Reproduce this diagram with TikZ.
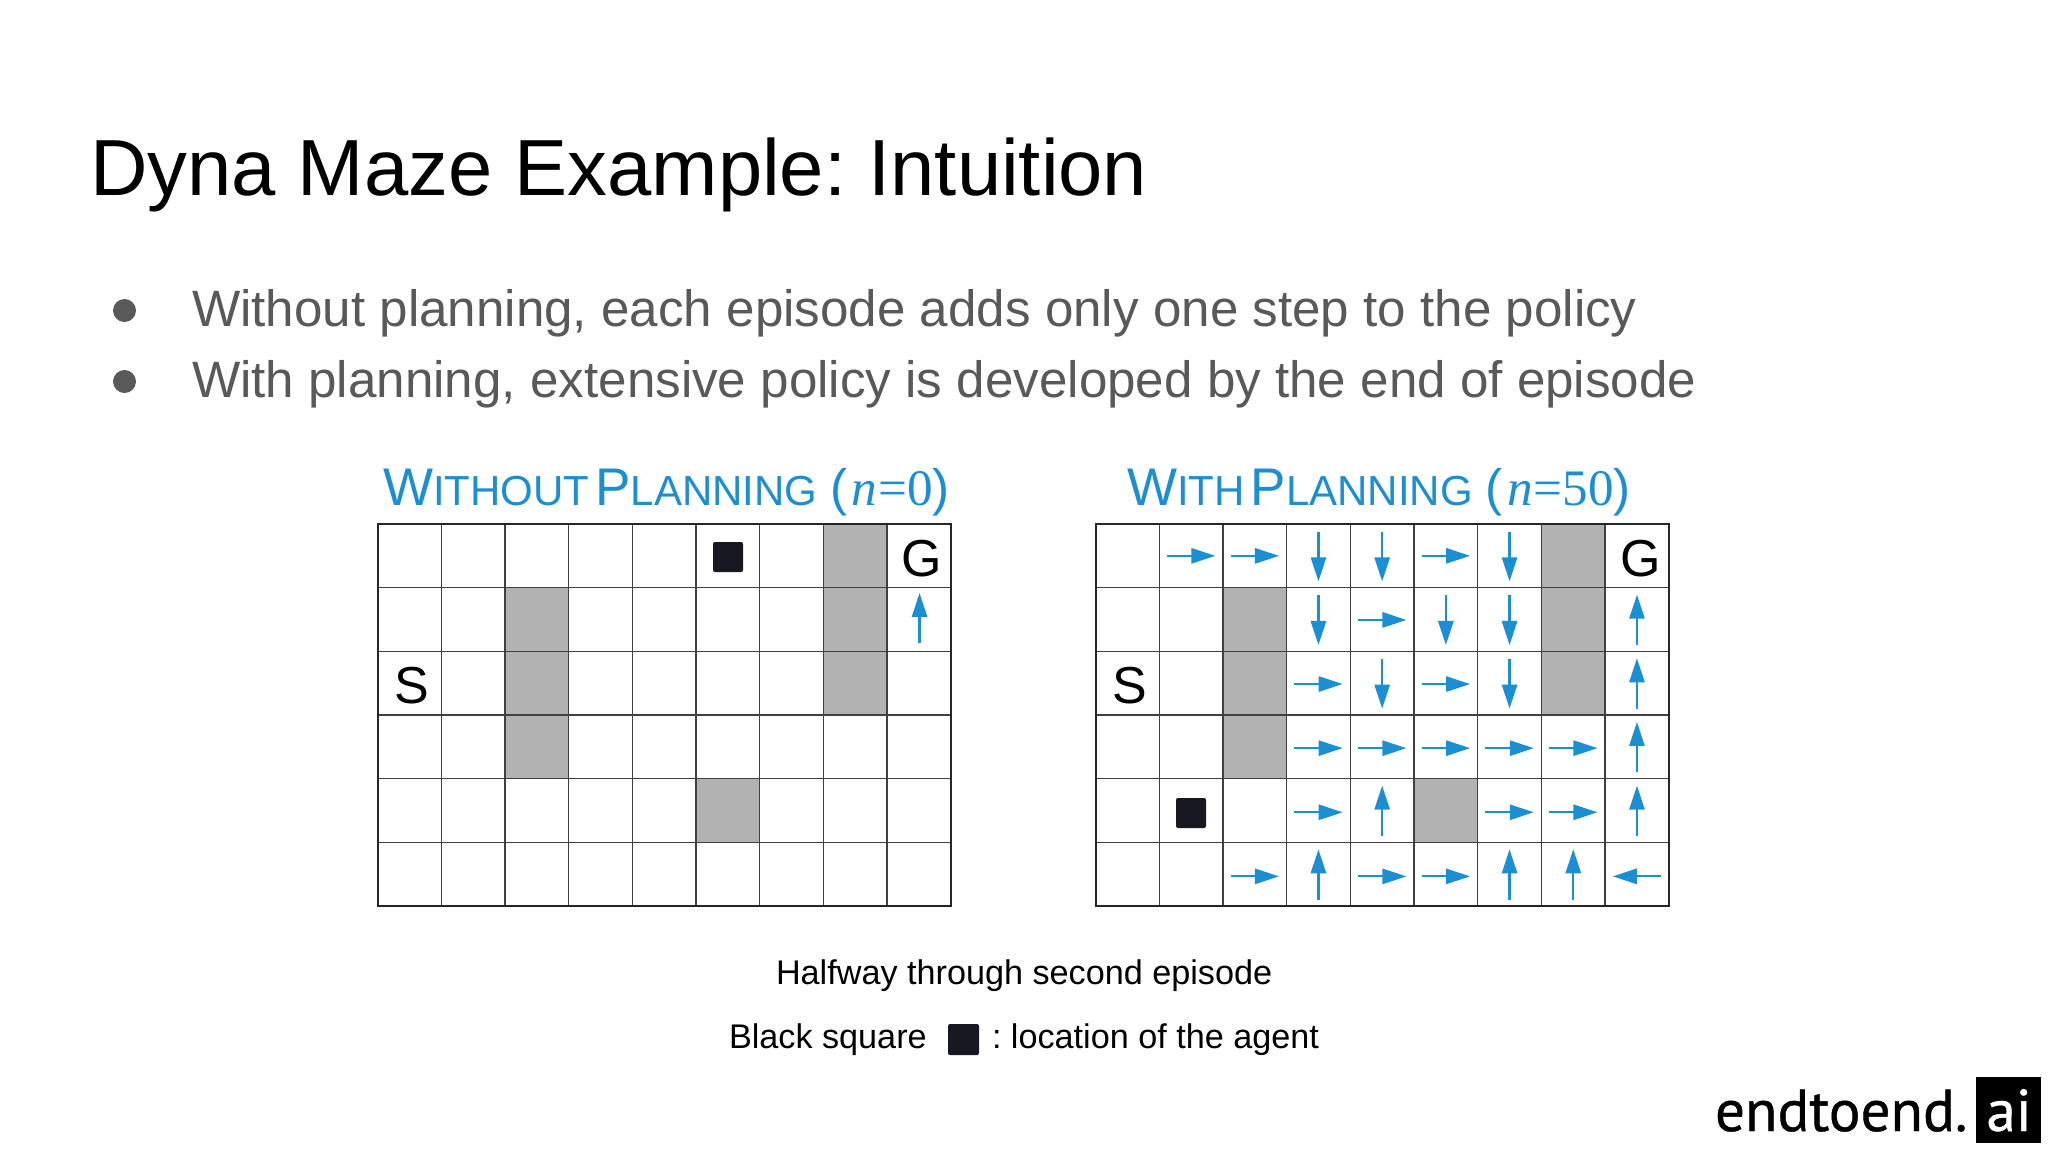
\documentclass[tikz,border=0pt]{standalone}
\usepackage{fontspec}
\setmainfont{Liberation Sans}
\newfontfamily\serifnum{Liberation Serif}
\newfontfamily\logofont[RawFeature={embolden=0.7}]{PT Sans}
\usetikzlibrary{arrows.meta}
\frenchspacing
\definecolor{headblue}{HTML}{1B8FD2}
\definecolor{bodygray}{HTML}{595959}
\definecolor{wallgray}{HTML}{B3B2B3}
\definecolor{agentblack}{HTML}{171821}
\definecolor{gridline}{HTML}{404040}
\newcommand{\px}[2]{\fontsize{#1pt}{#1pt}\selectfont #2}
\newcommand{\headcaps}[2]{{\fontsize{26.5pt}{26.5pt}\selectfont #1}{\fontsize{21pt}{21pt}\selectfont #2}}
\newcommand{\headmath}[2]{{\fontsize{25.6pt}{25.6pt}\selectfont\hspace{6.4pt}(\hspace{2.2pt}{\serifnum\itshape #1}\hspace{0.6pt}{\serifnum =#2})}}
\newcommand{\mazegrid}[1]{%
  \begin{scope}[shift={(#1,524)},x=31.85pt,y=-31.83pt]
    \fill[wallgray] (2,1) rectangle (3,4);
    \fill[wallgray] (7,0) rectangle (8,3);
    \fill[wallgray] (5,4) rectangle (6,5);
    \foreach \i in {1,...,8} \draw[gridline,line width=0.65pt] (\i,0) -- (\i,6);
    \foreach \j in {1,...,5} \draw[gridline,line width=0.65pt] (0,\j) -- (9,\j);
    \draw[black!85,line width=1pt] (0,0) rectangle (9,6);
  \end{scope}}
\tikzset{
  pol/.style={headblue,line width=1.1pt,-{Triangle[length=12pt,width=7.6pt]}},
  agent/.style={fill=agentblack,rounded corners=1pt},
  txt/.style={anchor=base west,inner sep=0pt,outer sep=0pt},
  cellmark/.style={inner sep=0pt,outer sep=0pt,font=\fontsize{26pt}{26pt}\selectfont}
}
\begin{document}
\begin{tikzpicture}[x=0.5pt,y=-0.5pt]
\useasboundingbox (0,0) rectangle (2048,1152);
\fill[white] (0,0) rectangle (2048,1152);
\node[txt] (title) at (90,195.5) {\px{39.8}{Dyna Maze Example: Intuition}};
\fill[bodygray] (124.5,310.5) circle (11.5);
\fill[bodygray] (124.5,381.5) circle (11.5);
\node[txt,text=bodygray] (b1) at (192,326) {\px{25.58}{Without planning, each episode adds only one step to the policy}};
\node[txt,text=bodygray] (b2) at (192,397) {\px{25.58}{With planning, extensive policy is developed by the end of episode}};
\node[txt,text=headblue] (h1) at (383,505) {\headcaps{W}{ITHOUT}\hspace{3pt}\headcaps{P}{LANNING}\headmath{n}{0}};
\node[txt,text=headblue] (h2) at (1127,505) {\headcaps{W}{ITH}\hspace{3pt}\headcaps{P}{LANNING}\headmath{n}{50}};
\mazegrid{377.5}
\mazegrid{1095.5}
% left grid contents
\node[cellmark] (s1) at (412,686) {S};
\node[cellmark] (g1) at (921.5,559) {G};
\fill[agent] (713,542) rectangle (743,572);
\draw[pol] (919.5,643) -- (919.5,593);
% right grid contents
\node[cellmark] (s2) at (1130,686) {S};
\node[cellmark] (g2) at (1640.5,559) {G};
\fill[agent] (1176,798) rectangle (1206,828);
\begin{scope}[shift={(1095.5,524)},x=31.85pt,y=-31.83pt]
  \foreach \c/\r in {1/0,2/0,5/0, 4/1, 3/2,5/2, 3/3,4/3,5/3,6/3,7/3, 3/4,6/4,7/4, 2/5,4/5,5/5}
    \draw[pol] (\c+0.12,\r+0.5+0.007*\r) -- (\c+0.88,\r+0.5+0.007*\r);
  \foreach \c/\r in {3/0,4/0,6/0, 3/1,5/1,6/1, 4/2,6/2}
    \draw[pol] (\c+0.5,\r+0.12) -- (\c+0.5,\r+0.90);
  \foreach \c/\r in {8/1,8/2,8/3,8/4, 4/4, 3/5,6/5,7/5}
    \draw[pol] (\c+0.5,\r+0.90) -- (\c+0.5,\r+0.11);
  \foreach \c/\r in {8/5}
    \draw[pol] (\c+0.88,\r+0.535) -- (\c+0.12,\r+0.535);
\end{scope}
\node[txt] (c1) at (776,984) {\px{17.1}{Halfway through second episode}};
\node[txt] (c2) at (729,1048) {\px{17.1}{Black square}};
\fill[agent] (948,1024) rectangle (979,1055);
\node[txt] (c3) at (992,1048) {\px{17.1}{: location of the agent}};
\node[txt] (logo) at (1715,1131) {\logofont\px{29.6}{endtoend.}};
\node[anchor=north west,fill=black,minimum width=32.5pt,minimum height=33pt,inner sep=0pt,outer sep=0pt] (logobox) at (1976,1077) {};
\node[text=white,inner sep=0pt,anchor=base] (ai) at (2009,1131) {\logofont\px{29.6}{ai}};
\end{tikzpicture}
\end{document}
